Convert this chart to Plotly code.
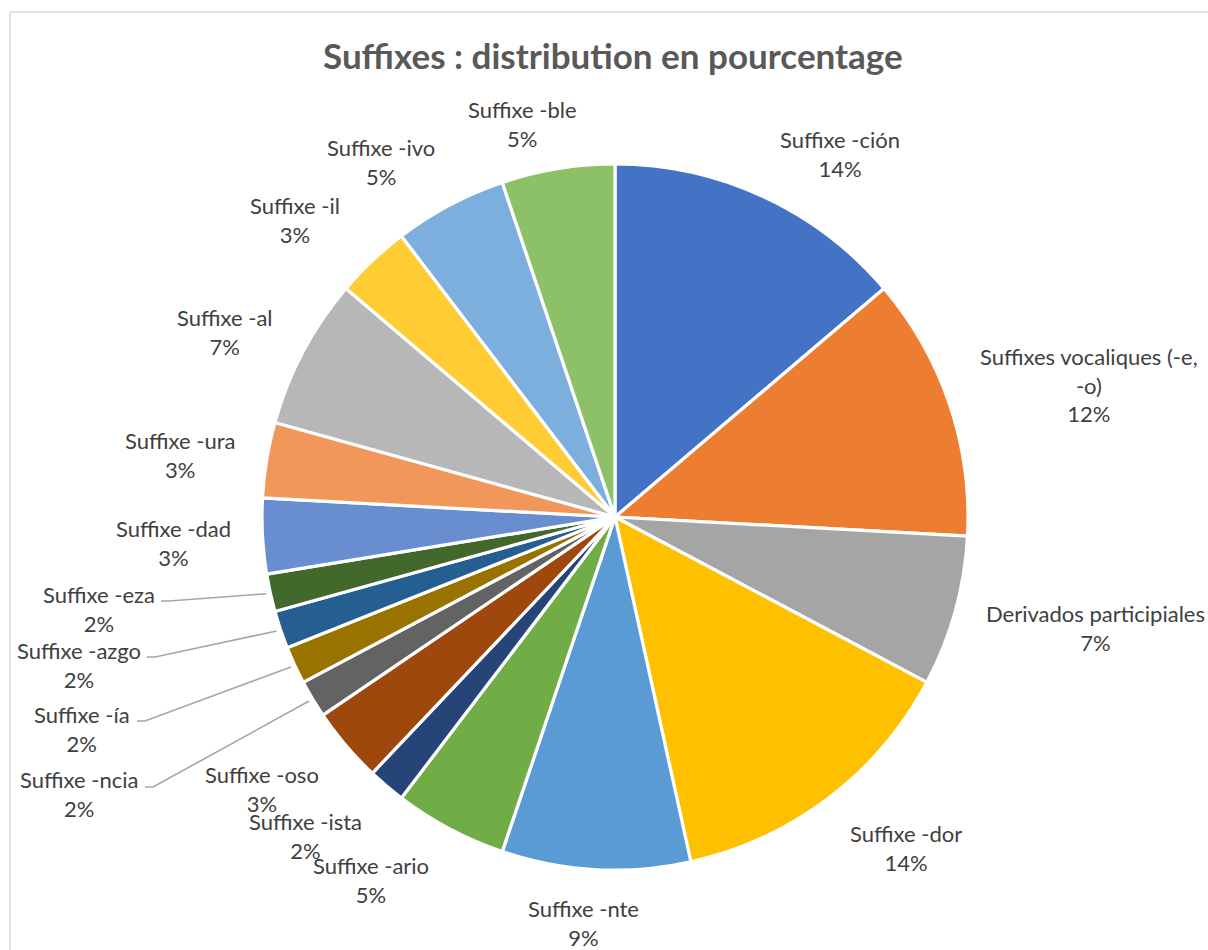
import math
import plotly.graph_objects as go

# ---------------- data ----------------
categories = [
    "Suffixe -ción", "Suffixes vocaliques (-e,\n-o)", "Derivados participiales",
    "Suffixe -dor", "Suffixe -nte", "Suffixe -ario", "Suffixe -ista", "Suffixe -oso",
    "Suffixe -ncia", "Suffixe -ía", "Suffixe -azgo", "Suffixe -eza", "Suffixe -dad",
    "Suffixe -ura", "Suffixe -al", "Suffixe -il", "Suffixe -ivo", "Suffixe -ble",
]
counts = [8, 7, 4, 8, 5, 3, 1, 2, 1, 1, 1, 1, 2, 2, 4, 2, 3, 3]

colors = [
    "#4472C4", "#ED7D31", "#A5A5A5", "#FFC000", "#5B9BD5", "#70AD47", "#264478",
    "#9E480E", "#636363", "#997300", "#255E91", "#43682B", "#698ED0", "#F1975A",
    "#B7B7B7", "#FFCD33", "#7CAFDD", "#8CC168",
]

title_text = "Suffixes : distribution en pourcentage"

# ---------------- layout constants (pixels) ----------------
W, H = 1208, 950
CX, CY, R = 615, 517, 353

# label block centres (pixels), in slice order
label_xy = [
    (840, 153.5), (1089, 385.5), (1095, 627.5), (906, 848), (583, 923),
    (371, 880), (305, 836), (262, 789), (79, 794), (82, 729), (79, 665),
    (99, 608.5), (173, 543), (180, 455.5), (225, 331.5), (295, 220),
    (381, 162), (522, 124.5),
]
# leader line start points for labels placed away from their slice
leader_from = {8: (145, 787), 9: (137, 721), 10: (147, 657), 11: (161, 601)}

FONT = "Lato, 'Open Sans', sans-serif"
LABEL_COLOR = "#404040"


def px(x):
    return x / W


def py(y):
    return 1 - y / H


total = sum(counts)
pcts = [f"{round(100 * c / total)}%" for c in counts]

fig = go.Figure()
fig.add_trace(go.Pie(
    labels=[c.replace("\n", " ") for c in categories],
    values=counts,
    sort=False,
    direction="clockwise",
    rotation=0,
    marker=dict(colors=colors, line=dict(color="white", width=3.2)),
    textinfo="none",
    hovertemplate="%{label}<br>%{percent}<extra></extra>",
    showlegend=False,
    domain=dict(x=[px(CX - R), px(CX + R)], y=[py(CY + R), py(CY - R)]),
))

annotations = []
for i, (name, pct) in enumerate(zip(categories, pcts)):
    x, y = label_xy[i]
    annotations.append(dict(
        x=px(x), y=py(y), xref="paper", yref="paper",
        text=name.replace("\n", "<br>") + "<br>" + pct,
        showarrow=False, xanchor="center", yanchor="middle", align="center",
        font=dict(family=FONT, size=22, color=LABEL_COLOR),
    ))

annotations.append(dict(
    x=px(613), y=py(55), xref="paper", yref="paper", text="<b>" + title_text + "</b>",
    showarrow=False, xanchor="center", yanchor="middle",
    font=dict(family=FONT, size=35, color="#595959"),
))

shapes = []
# leader lines: from label to the outer edge of the slice at its mid angle
cum = 0
for i, c in enumerate(counts):
    mid = (cum + c / 2) / total * 2 * math.pi
    cum += c
    if i in leader_from:
        sx, sy = leader_from[i]
        ex = CX + (R + 4) * math.sin(mid)
        ey = CY - (R + 4) * math.cos(mid)
        path = (f"M {px(sx)} {py(sy)} L {px(sx + 8)} {py(sy)} "
                f"L {px(ex)} {py(ey)}")
        shapes.append(dict(type="path", xref="paper", yref="paper", path=path,
                           line=dict(color="#A6A6A6", width=1.6)))

# chart area border (top and left edges visible)
shapes.append(dict(type="rect", xref="paper", yref="paper",
                   x0=px(10), x1=px(W + 20), y0=py(H + 20), y1=py(12),
                   line=dict(color="#D9D9D9", width=1.5), fillcolor="rgba(0,0,0,0)"))

fig.update_layout(
    width=W, height=H,
    margin=dict(l=0, r=0, t=0, b=0),
    paper_bgcolor="white", plot_bgcolor="white",
    annotations=annotations, shapes=shapes,
)

fig.write_html("out.html")
